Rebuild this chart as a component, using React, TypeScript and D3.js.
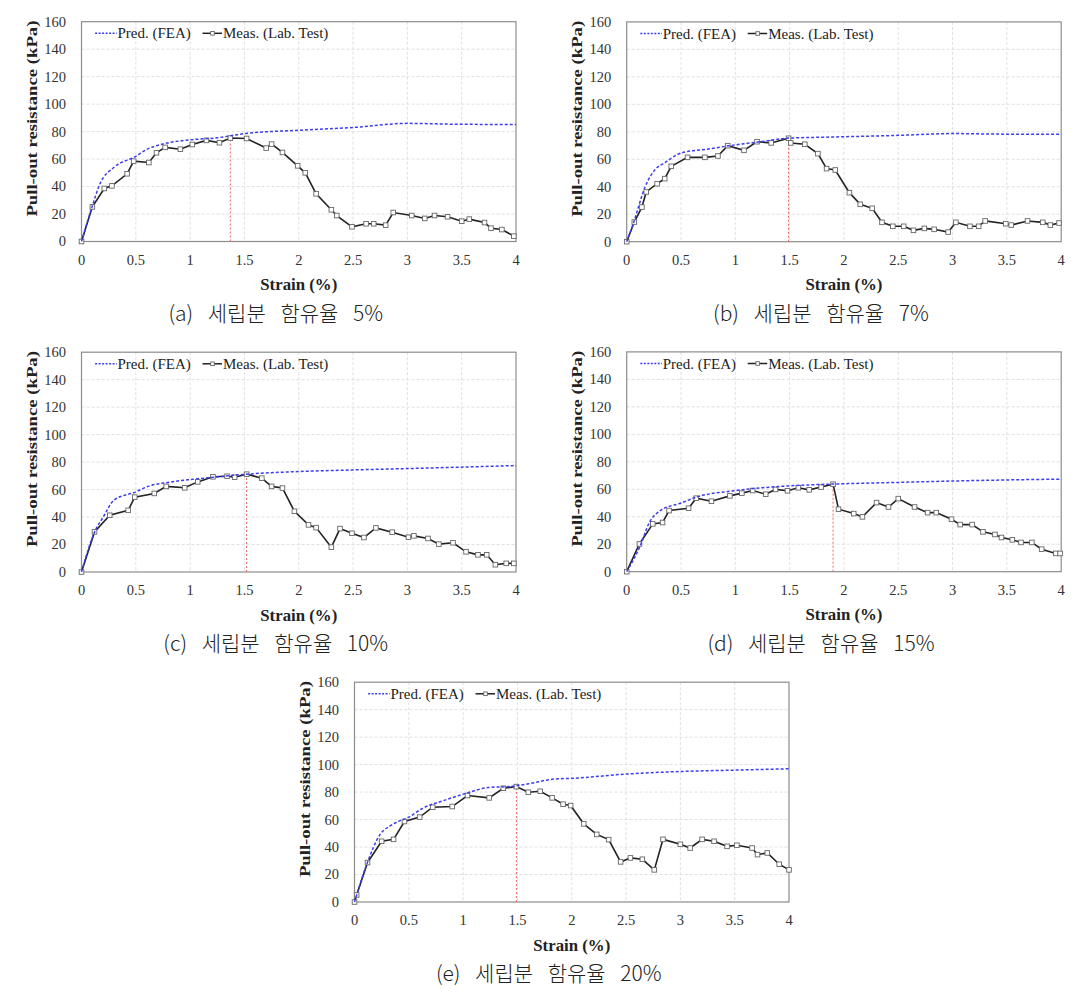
import React from "react";
import * as d3 from "d3";

// ---------- data ----------
const strainTicks = [0, 0.5, 1, 1.5, 2, 2.5, 3, 3.5, 4];
const resistanceTicks = [0, 20, 40, 60, 80, 100, 120, 140, 160];

const seriesNames = ["Pred. (FEA)", "Meas. (Lab. Test)"];
const captions = [
  "(a) 세립분 함유율 5%",
  "(b) 세립분 함유율 7%",
  "(c) 세립분 함유율 10%",
  "(d) 세립분 함유율 15%",
  "(e) 세립분 함유율 20%",
];

const predA: [number, number][] = [
  [0, 0], [0.1, 26], [0.17, 42], [0.3, 54], [0.5, 62], [0.6, 67], [0.75, 71],
  [1.0, 74], [1.25, 75.5], [1.4, 77.3], [1.5, 78.5], [2.0, 81], [2.5, 83],
  [3.0, 86], [3.5, 85.3], [4.0, 85.2],
];
const measA: [number, number][] = [
  [0, 0], [0.1, 25.2], [0.21, 38.6], [0.28, 40.5], [0.42, 49.3], [0.48, 58.5],
  [0.62, 57.5], [0.69, 64.6], [0.77, 68.5], [0.91, 67.2], [1.02, 70.6],
  [1.15, 73.6], [1.27, 71.9], [1.37, 75.3], [1.52, 75.0], [1.7, 68.0],
  [1.75, 70.9], [1.85, 64.8], [1.99, 55.1], [2.06, 50.0], [2.16, 34.7],
  [2.3, 23.1], [2.35, 18.9], [2.49, 10.7], [2.62, 12.9], [2.69, 12.9],
  [2.8, 11.9], [2.87, 21.1], [3.04, 18.9], [3.16, 16.8], [3.25, 18.9],
  [3.37, 18.0], [3.5, 14.8], [3.57, 16.3], [3.71, 13.8], [3.77, 9.7],
  [3.87, 8.7], [3.98, 3.9],
];

const predB: [number, number][] = [
  [0, 0], [0.06, 13], [0.17, 40], [0.28, 54], [0.34, 57], [0.5, 64.5],
  [0.75, 67.5], [1.0, 70.5], [1.25, 73], [1.47, 75.3], [1.9, 76.2],
  [2.5, 77.4], [3.0, 78.7], [3.5, 78.3], [4.0, 78.3],
];
const measB: [number, number][] = [
  [0, 0], [0.07, 14.3], [0.14, 25.2], [0.18, 36.2], [0.28, 42.2], [0.35, 45.9],
  [0.41, 54.9], [0.56, 61.4], [0.72, 61.4], [0.84, 62.4], [0.93, 69.9],
  [1.08, 66.5], [1.2, 72.8], [1.33, 71.9], [1.49, 75.3], [1.51, 71.9],
  [1.64, 70.9], [1.76, 64.1], [1.84, 53.2], [1.92, 52.2], [2.05, 35.7],
  [2.15, 27.2], [2.26, 24.3], [2.35, 14.1], [2.45, 11.2], [2.55, 11.2],
  [2.64, 8.3], [2.74, 9.7], [2.83, 9.0], [2.96, 7.0], [3.03, 14.1],
  [3.16, 11.2], [3.24, 11.2], [3.3, 15.1], [3.49, 13.1], [3.54, 12.1],
  [3.69, 15.1], [3.83, 14.1], [3.9, 12.1], [3.98, 13.6],
];

const predC: [number, number][] = [
  [0, 0], [0.12, 29], [0.2, 40], [0.3, 52.4], [0.49, 58], [0.62, 62.5],
  [0.81, 65.4], [1.0, 67.3], [1.22, 69], [1.52, 71.2], [1.99, 73.1],
  [2.5, 74.3], [3.0, 75.3], [3.48, 76.3], [4.0, 77.5],
];
const measC: [number, number][] = [
  [0, 0], [0.12, 29.2], [0.26, 41.3], [0.43, 44.9], [0.49, 54.5], [0.67, 57.2],
  [0.78, 62.3], [0.95, 61.3], [1.07, 65.6], [1.21, 69.3], [1.34, 69.7],
  [1.41, 69.0], [1.52, 71.2], [1.66, 68.3], [1.75, 62.3], [1.85, 61.1],
  [1.96, 44.2], [2.09, 34.3], [2.16, 32.3], [2.3, 18.1], [2.38, 31.6],
  [2.49, 28.2], [2.6, 25.1], [2.71, 32.1], [2.86, 29.0], [3.01, 25.3],
  [3.06, 26.3], [3.19, 24.4], [3.29, 20.3], [3.42, 21.3], [3.54, 14.7],
  [3.65, 12.5], [3.73, 12.5], [3.81, 5.3], [3.91, 6.3], [3.98, 6.3],
];

const predD: [number, number][] = [
  [0, 0], [0.12, 18], [0.21, 36], [0.31, 44.5], [0.5, 50], [0.65, 54.5],
  [1.0, 59], [1.5, 62.5], [1.9, 63.8], [2.5, 65], [3.0, 66], [3.5, 66.8],
  [4.0, 67.4],
];
const measD: [number, number][] = [
  [0, 0], [0.117, 20.2], [0.24, 34.8], [0.33, 35.8], [0.39, 44.5], [0.57, 46.2],
  [0.64, 53.5], [0.78, 51.3], [0.95, 55.2], [1.06, 57.2], [1.16, 59.1],
  [1.28, 56.4], [1.37, 59.9], [1.48, 58.9], [1.58, 61.1], [1.68, 59.6],
  [1.79, 61.6], [1.9, 63.7], [1.95, 45.5], [2.09, 42.3], [2.17, 39.9],
  [2.3, 50.3], [2.41, 47.1], [2.5, 53.2], [2.65, 47.1], [2.77, 43.0],
  [2.85, 43.0], [2.99, 38.2], [3.07, 34.3], [3.18, 34.3], [3.28, 29.0],
  [3.39, 27.1], [3.45, 24.9], [3.55, 23.2], [3.63, 21.3], [3.73, 21.3],
  [3.82, 16.4], [3.95, 13.3], [3.99, 13.3],
];

const predE: [number, number][] = [
  [0, 0], [0.12, 29], [0.23, 48.5], [0.34, 56], [0.5, 61.8], [0.63, 68.3],
  [0.82, 73.8], [1.01, 78.7], [1.23, 83.3], [1.45, 84.2], [1.6, 86],
  [1.84, 89.5], [2.0, 90], [2.5, 93.1], [3.0, 95], [3.51, 96], [4.0, 97],
];
const measE: [number, number][] = [
  [0, 0], [0.02, 5.1], [0.12, 28.7], [0.25, 44.2], [0.36, 45.6], [0.46, 58.6],
  [0.6, 61.8], [0.72, 69.0], [0.9, 69.5], [1.04, 77.5], [1.24, 75.8],
  [1.37, 82.8], [1.49, 84.0], [1.6, 79.9], [1.71, 80.6], [1.82, 75.8],
  [1.92, 71.2], [1.99, 70.2], [2.11, 56.9], [2.23, 49.2], [2.34, 45.4],
  [2.45, 29.2], [2.54, 32.1], [2.65, 31.1], [2.76, 23.4], [2.84, 45.6],
  [3.0, 42.0], [3.09, 39.3], [3.2, 45.6], [3.31, 44.2], [3.43, 40.5],
  [3.52, 41.3], [3.66, 39.3], [3.71, 34.5], [3.8, 35.7], [3.91, 27.5],
  [4.0, 23.4],
];

const predSeries = [predA, predB, predC, predD, predE];
const measSeries = [measA, measB, measC, measD, measE];
const peakStrain = [1.37, 1.49, 1.52, 1.9, 1.49];
const peakValue = [75.3, 75.3, 71.2, 63.7, 84.0];

// ---------- layout ----------
const panelPos = [
  { left: 81.5, bottom: 241.5 },
  { left: 626.7, bottom: 241.7 },
  { left: 81.5, bottom: 572 },
  { left: 626.7, bottom: 571.7 },
  { left: 354.5, bottom: 902 },
];
const PW = 434.5;
const PH = 219.8;

const SERIF = '"Liberation Serif", "Times New Roman", serif';

function Panel({ idx }: { idx: number }) {
  const { left, bottom } = panelPos[idx];
  const top = bottom - PH;
  const x = d3.scaleLinear().domain([0, 4]).range([left, left + PW]);
  const y = d3.scaleLinear().domain([0, 160]).range([bottom, top]);
  const pred = predSeries[idx];
  const meas = measSeries[idx];
  const predLine = d3
    .line<[number, number]>()
    .x((d) => x(d[0]))
    .y((d) => y(d[1]))
    .curve(d3.curveMonotoneX);
  const measLine = d3
    .line<[number, number]>()
    .x((d) => x(d[0]))
    .y((d) => y(d[1]));
  const ms = 4.6;
  const legY = top + 11.6;
  const cx = left + PW / 2;
  return (
    <g>
      {/* grid */}
      {resistanceTicks.slice(1, -1).map((t) => (
        <line key={"gy" + t} x1={left} x2={left + PW} y1={y(t)} y2={y(t)}
          stroke="#dcdcdc" strokeWidth={0.9} strokeDasharray="3,2" />
      ))}
      {strainTicks.slice(1, -1).map((t) => (
        <line key={"gx" + t} x1={x(t)} x2={x(t)} y1={top} y2={bottom}
          stroke="#dcdcdc" strokeWidth={0.9} strokeDasharray="3,2" />
      ))}
      {/* plot border */}
      <rect x={left} y={top} width={PW} height={PH} fill="none" stroke="#8c8c8c" strokeWidth={1.2} />
      {/* peak marker line */}
      <line x1={x(peakStrain[idx])} x2={x(peakStrain[idx])} y1={y(0)} y2={y(peakValue[idx])}
        stroke="#f06464" strokeWidth={1} strokeDasharray="2,2" />
      {/* measured */}
      <path d={measLine(meas) || ""} fill="none" stroke="#222" strokeWidth={1.6} />
      {meas.map((d, i) => (
        <rect key={"m" + i} x={x(d[0]) - ms / 2} y={y(d[1]) - ms / 2} width={ms} height={ms}
          fill="#fff" stroke="#666" strokeWidth={0.9} />
      ))}
      {/* predicted */}
      <path d={predLine(pred) || ""} fill="none" stroke="#3c3cf0" strokeWidth={1.5} strokeDasharray="3,2" />
      {/* y ticks */}
      {resistanceTicks.map((t) => (
        <text key={"yl" + t} x={left - 15.5} y={y(t)} dy="0.34em" textAnchor="end"
          fontFamily={SERIF} fontSize={14.5} fill="#333">{t}</text>
      ))}
      {/* x ticks */}
      {strainTicks.map((t) => (
        <text key={"xl" + t} x={x(t)} y={bottom + 23} textAnchor="middle"
          fontFamily={SERIF} fontSize={14.5} fill="#333">{t}</text>
      ))}
      {/* axis titles */}
      <text x={cx} y={bottom + 48.5} textAnchor="middle" fontFamily={SERIF} fontWeight="bold"
        fontSize={16.5} fill="#222" textLength={77} lengthAdjust="spacingAndGlyphs">Strain (%)</text>
      <text transform={`translate(${left - 44.8},${(top + bottom) / 2 - 13}) rotate(-90)`} textAnchor="middle"
        fontFamily={SERIF} fontWeight="bold" fontSize={15.5} fill="#222"
        textLength={196} lengthAdjust="spacingAndGlyphs">Pull-out resistance (kPa)</text>
      {/* legend */}
      <line x1={left + 13.6} x2={left + 35.3} y1={legY} y2={legY} stroke="#3c3cf0" strokeWidth={1.5} strokeDasharray="2,1.5" />
      <text x={left + 36} y={legY} dy="0.34em" fontFamily={SERIF} fontSize={15} fill="#222">{seriesNames[0]}</text>
      <line x1={left + 121} x2={left + 140.5} y1={legY} y2={legY} stroke="#222" strokeWidth={1.5} />
      <rect x={left + 131 - 1.8} y={legY - 1.8} width={3.6} height={3.6} fill="#fff" stroke="#666" strokeWidth={0.9} />
      <text x={left + 141.5} y={legY} dy="0.34em" fontFamily={SERIF} fontSize={15} fill="#222">{seriesNames[1]}</text>
      {/* caption */}
      <text x={cx - 23} y={bottom + 79} textAnchor="middle" fontFamily='"Noto Sans CJK KR", sans-serif'
        fontSize={21} fontWeight={300} fill="#222" style={{ wordSpacing: "10px", whiteSpace: "pre" }}>{captions[idx]}</text>
    </g>
  );
}

export default function App() {
  return (
    <svg width={1083} height={993} viewBox="0 0 1083 993"
      style={{ position: "absolute", left: 0, top: 0, background: "#fff" }}>
      <rect x={0} y={0} width={1083} height={993} fill="#fff" />
      {[0, 1, 2, 3, 4].map((i) => (
        <Panel key={i} idx={i} />
      ))}
    </svg>
  );
}
